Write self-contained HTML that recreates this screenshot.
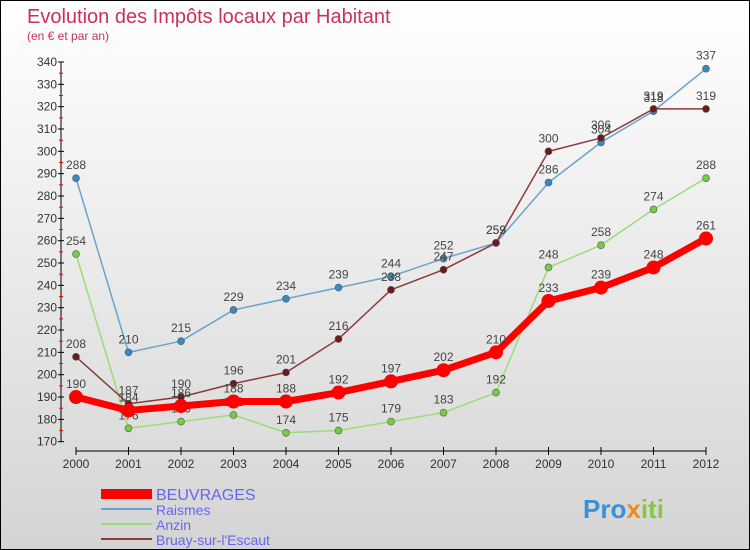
<!DOCTYPE html>
<html><head><meta charset="utf-8"><style>
body{margin:0}
#c{width:750px;height:550px;position:relative;overflow:hidden;box-sizing:border-box;border:1px solid #000;background:linear-gradient(#fff,#d4d4d4);font-family:"Liberation Sans",sans-serif}
</style></head><body>
<div id="c">
<svg id="s" width="750" height="550" style="position:absolute;left:0;top:0">
<text x="26" y="22" font-size="20" fill="#c8325a">Evolution des Impôts locaux par Habitant</text>
<text x="26" y="39" font-size="12" fill="#c8325a">(en € et par an)</text>
<g id="ax"></g><g id="ser"></g><g id="leg"></g>
<text x="582" y="517" font-size="26" font-weight="bold" fill="#3a8fd8">Pro<tspan fill="#f08a1c">x</tspan><tspan fill="#8cc63f">iti</tspan></text>
</svg>
</div>
<script>
const years=[2000,2001,2002,2003,2004,2005,2006,2007,2008,2009,2010,2011,2012];
const yTicks=[170,180,190,200,210,220,230,240,250,260,270,280,290,300,310,320,330,340];
const beuvrages=[190,184,186,188,188,192,197,202,210,233,239,248,261];
const raismes=[288,210,215,229,234,239,244,252,259,286,304,318,337];
const anzin=[254,176,179,182,174,175,179,183,192,248,258,274,288];
const bruay=[208,187,190,196,201,216,238,247,259,300,306,319,319];
const NS="http://www.w3.org/2000/svg";
const X=i=>75+i*52.5, Y=v=>440.7-(v-170)*(379.7/170);
function mk(t,a,p){const e=document.createElementNS(NS,t);for(const k in a)e.setAttribute(k,a[k]);p.appendChild(e);return e;}
const ax=document.getElementById('ax');
let e=mk('line',{x1:60,y1:Y(340),x2:60,y2:Y(170),stroke:'#000'},ax);


e=mk('line',{x1:75,y1:450,x2:705,y2:450,stroke:'#000'},ax);


yTicks.forEach(v=>{
 mk('line',{x1:57,y1:Y(v),x2:63,y2:Y(v),stroke:'#000'},ax);
 if(v<340)mk('line',{x1:58,y1:Y(v+5),x2:62,y2:Y(v+5),stroke:'#f00'},ax);
 e=mk('text',{x:56,y:Y(v)+4,'font-size':12,fill:'#333','text-anchor':'end'},ax);e.textContent=v;
 
 
});
years.forEach((y,i)=>{
 mk('line',{x1:X(i),y1:446,x2:X(i),y2:454,stroke:'#000'},ax);
 e=mk('text',{x:X(i),y:467,'font-size':12,fill:'#333','text-anchor':'middle'},ax);e.textContent=y;
 
 
});
const ser=document.getElementById('ser');
function draw(d,col,dot,w,r,name,labels){
 const g=mk('g',{},ser);
 
 
 mk('polyline',{points:d.map((v,i)=>X(i)+','+Y(v)).join(' '),fill:'none',stroke:col,'stroke-width':w,'stroke-linejoin':'round'},g);
 d.forEach((v,i)=>{
  const c=mk('circle',{cx:X(i),cy:Y(v),r:r,fill:dot,stroke:'#555','stroke-width':r>5?0:0.6},g);
  
  
  const t=mk('text',{x:X(i),y:Y(v)-9,'font-size':12,fill:'#444','text-anchor':'middle'},g);t.textContent=v;
 });
}
draw(anzin,'#99dd77','#77cc44',1.5,3.5,'anzin');
draw(raismes,'#6aa3cc','#3a88c4',1.5,3.5,'raismes');
draw(bruay,'#8a3a3a','#6a1a1a',1.5,3.5,'bruay');
draw(beuvrages,'#f00','#f00',7,7,'beuvrages');
const leg=document.getElementById('leg');
[['BEUVRAGES','#f00',10,493,16],['Raismes','#6aa3cc',2,508,14],['Anzin','#99dd77',2,523,14],['Bruay-sur-l\'Escaut','#8a3a3a',2,538,14]].forEach(l=>{
 const g=mk('g',{},leg);
 
 
 mk('line',{x1:100,y1:l[3],x2:151,y2:l[3],stroke:l[1],'stroke-width':l[2]},g);
 const t=mk('text',{x:155,y:l[3]+6,'font-size':l[4],fill:'#6666ee'},g);t.textContent=l[0];
});
</script>
</body></html>
